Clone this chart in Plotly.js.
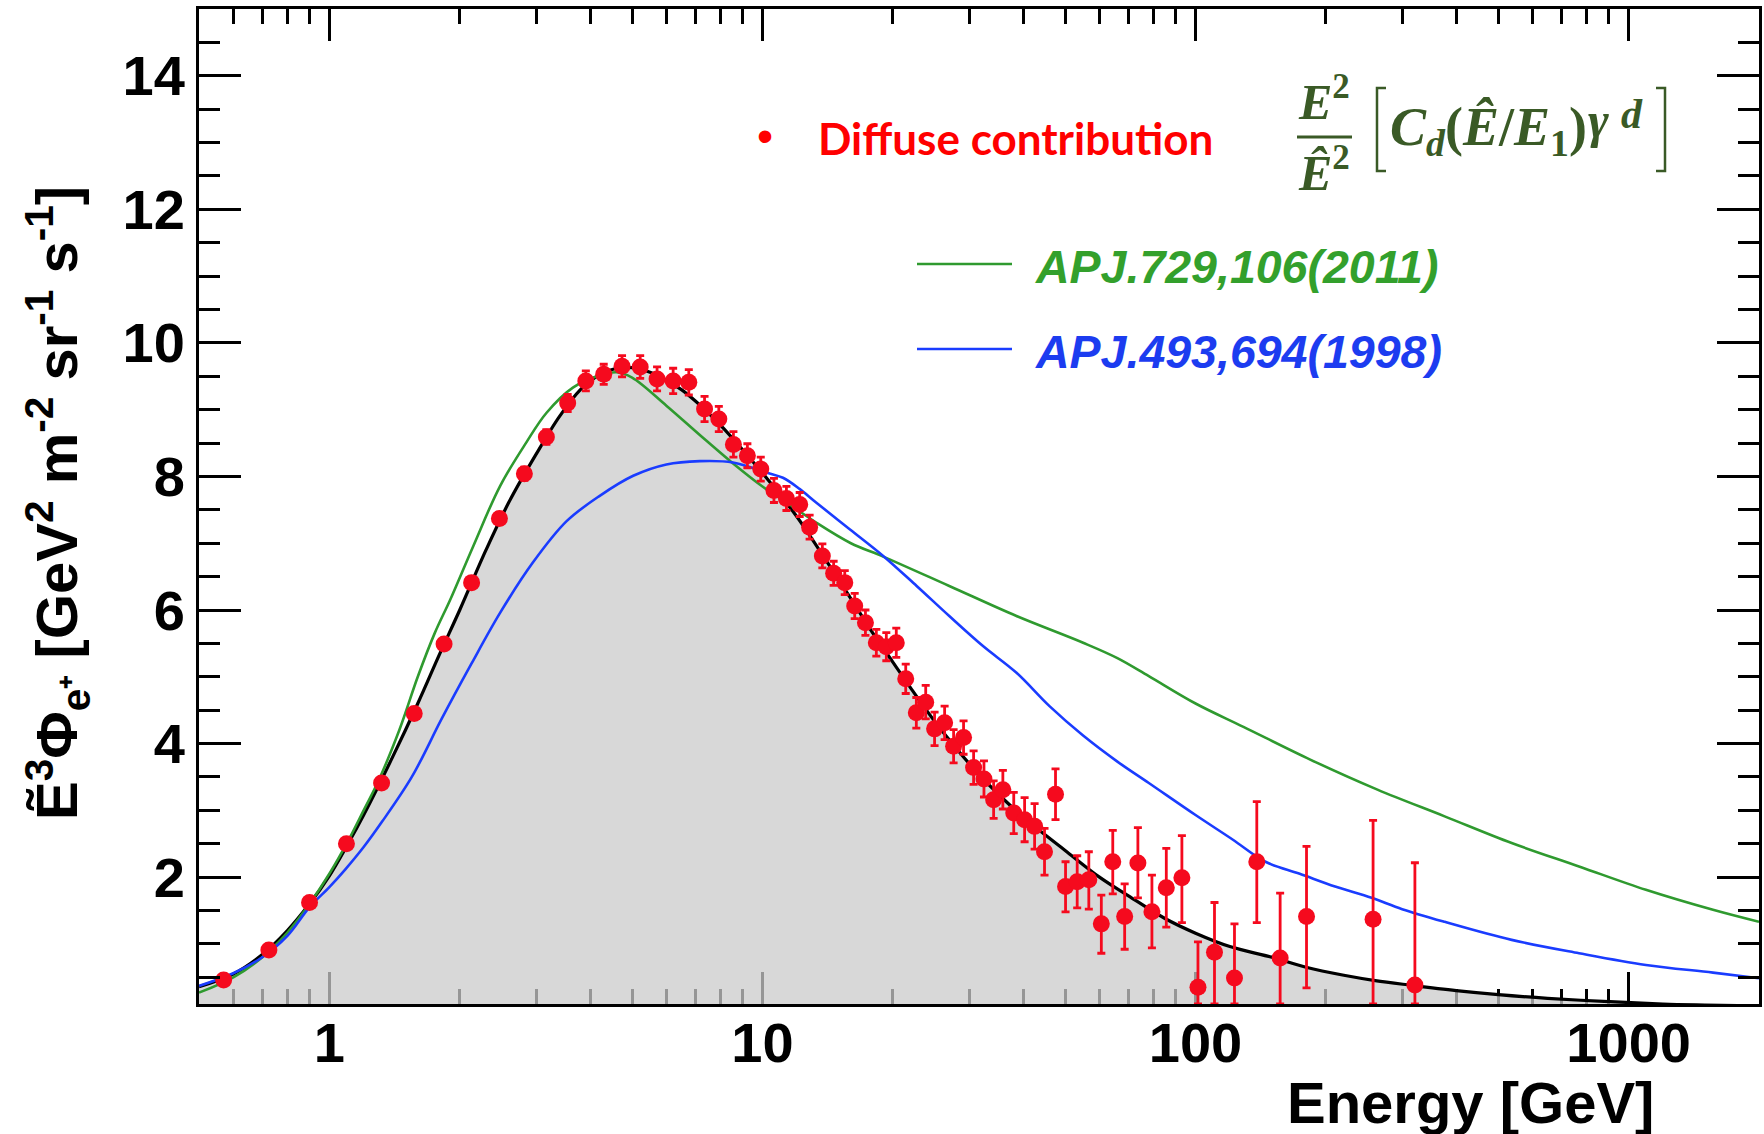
<!DOCTYPE html>
<html>
<head>
<meta charset="utf-8">
<script src="https://cdn.plot.ly/plotly-3.0.1.min.js"></script>
<style>html,body{margin:0;padding:0;background:#fff;}#chart{width:1764px;height:1134px;}</style>
</head>
<body>
<div id="chart"></div>
<script>
// ---- Data points: diffuse positron contribution ----
const dataEnergy = [0.57,0.725,0.90,1.095,1.32,1.57,1.84,2.13,2.47,2.82,3.17,3.55,3.91,4.30,4.74,5.22,5.71,6.22,6.76,7.35,7.93,8.57,9.23,9.91,10.63,11.36,12.19,12.85,13.75,14.6,15.49,16.33,17.29,18.32,19.32,20.37,21.42,22.66,23.82,24.97,26.34,27.63,29.13,30.73,32.47,34.18,35.9,38.04,40.3,42.5,44.8,47.5,50.1,53.3,56.7,60.6,64.4,68.6,73.6,79.3,85.6,93.0,101.3,110.6,123,138.5,156.8,180.4,257,321];
const dataFlux = [0.46,0.91,1.62,2.50,3.41,4.45,5.49,6.41,7.37,8.04,8.59,9.10,9.43,9.53,9.65,9.64,9.46,9.43,9.41,9.01,8.86,8.48,8.31,8.11,7.79,7.67,7.58,7.24,6.81,6.55,6.41,6.06,5.81,5.51,5.45,5.51,4.97,4.46,4.62,4.22,4.31,3.96,4.09,3.64,3.47,3.16,3.31,2.96,2.86,2.76,2.38,3.24,1.86,1.93,1.96,1.30,2.23,1.41,2.21,1.48,1.84,1.99,0.35,0.875,0.49,2.23,0.79,1.41,1.37,0.385];
const dataErrUp = [0.03,0.03,0.04,0.05,0.05,0.06,0.07,0.08,0.09,0.10,0.11,0.13,0.15,0.15,0.16,0.17,0.18,0.19,0.19,0.19,0.19,0.19,0.18,0.18,0.18,0.18,0.18,0.18,0.18,0.18,0.18,0.19,0.19,0.20,0.21,0.22,0.22,0.23,0.25,0.25,0.25,0.25,0.25,0.25,0.27,0.28,0.29,0.31,0.33,0.34,0.35,0.38,0.37,0.39,0.42,0.43,0.47,0.49,0.53,0.55,0.59,0.63,0.68,0.745,0.81,0.90,0.97,1.05,1.48,1.83];
const dataErrDown = [0.03,0.03,0.04,0.05,0.05,0.06,0.07,0.08,0.09,0.10,0.11,0.13,0.15,0.15,0.16,0.17,0.18,0.19,0.19,0.19,0.19,0.19,0.18,0.18,0.18,0.18,0.18,0.18,0.18,0.18,0.18,0.19,0.19,0.20,0.21,0.22,0.22,0.23,0.25,0.25,0.25,0.25,0.25,0.25,0.27,0.28,0.29,0.31,0.33,0.34,0.35,0.38,0.38,0.39,0.44,0.44,0.48,0.49,0.52,0.54,0.59,0.67,0.25,0.775,0.39,0.91,0.69,1.07,1.27,0.285];

// ---- Fit curve (black, filled) ----
const fitEnergy = [0.5,0.6,0.7,0.8,0.9,1.0,1.1,1.2,1.4,1.6,1.8,2.0,2.3,2.6,3.0,3.4,3.8,4.2,4.6,5.0,5.5,6.0,6.5,7.0,7.5,8,9,10,11,12,13,14,15,16,17,18,20,22,25,28,32,36,40,45,50,60,70,85,100,120,150,180,220,260,315,400,500,650,900,1200,1500,2000];
const fitFlux = [0.36,0.55,0.84,1.2,1.6,2.02,2.48,2.93,3.8,4.6,5.35,6.0,6.9,7.62,8.33,8.9,9.3,9.52,9.62,9.63,9.56,9.44,9.3,9.13,8.95,8.77,8.4,8.05,7.72,7.4,7.07,6.75,6.45,6.17,5.9,5.65,5.22,4.83,4.33,3.93,3.5,3.17,2.9,2.63,2.4,2.0,1.72,1.38,1.16,0.96,0.8,0.65,0.53,0.45,0.38,0.3,0.24,0.185,0.135,0.1,0.085,0.07];

// ---- APJ.729,106(2011) (green) ----
const greenEnergy = [0.5,0.6,0.7,0.8,0.9,1.0,1.1,1.2,1.3,1.45,1.6,1.75,1.9,2.15,2.48,2.85,3.17,3.65,4.2,4.6,5.0,6.0,7.2,8.5,10,11.2,13.3,16,19,27,38.6,55,66,78,100,129,184,263,376,537,768,1096,1566,2000];
const greenFlux = [0.27,0.5,0.8,1.17,1.6,2.05,2.52,3.0,3.45,4.2,5.0,5.65,6.15,6.96,7.86,8.51,8.95,9.33,9.51,9.56,9.48,9.06,8.61,8.21,7.85,7.64,7.31,7.0,6.8,6.36,5.91,5.51,5.28,5.01,4.6,4.25,3.76,3.31,2.91,2.51,2.16,1.81,1.51,1.33];

// ---- APJ.493,694(1998) (blue) ----
const blueEnergy = [0.5,0.6,0.7,0.8,0.9,1.0,1.09,1.2,1.32,1.55,1.82,2.13,2.48,2.95,3.53,4.21,5.03,6.0,7.17,8.55,10.2,11.15,12.2,13.3,15.9,19,22.7,27,32.3,38.6,46,55,66,78,100,122,145,174,210,255,300,376,537,768,1096,1566,2000];
const blueFlux = [0.37,0.56,0.8,1.12,1.55,1.85,2.12,2.45,2.82,3.5,4.38,5.2,5.96,6.71,7.33,7.71,8.01,8.18,8.23,8.21,8.06,7.98,7.81,7.61,7.21,6.81,6.36,5.91,5.46,5.06,4.56,4.12,3.73,3.41,2.93,2.56,2.23,2.05,1.86,1.69,1.52,1.33,1.06,0.86,0.685,0.57,0.485];

// ---- Axis ticks ----
const xMajorTicks = [1,10,100,1000];
const xMajorLabels = ['1','10','100','1000'];
const xMinorTicks = [0.6,0.7,0.8,0.9,2,3,4,5,6,7,8,9,20,30,40,50,60,70,80,90,200,300,400,500,600,700,800,900,2000];
const yMajorTicks = [2,4,6,8,10,12,14];
const yMajorLabels = ['2','4','6','8','10','12','14'];

// ---- Text ----
const legendDiffuse = 'Diffuse contribution';
const legendGreen = 'APJ.729,106(2011)';
const legendBlue = 'APJ.493,694(1998)';
const xTitle = 'Energy [GeV]';
const yTitle = 'Ẽ<sup>3</sup>Φ<sub>e⁺</sub> [GeV<sup>2</sup> m<sup>-2</sup> sr<sup>-1</sup> s<sup>-1</sup>]';

const RED = '#f50a1e';
const GREEN = '#2f9a2f';
const BLUE = '#1a3cff';
const FORM = '#3a5a26';

// plot area in pixels: x 199..1759, y 9..1004
const L = 199, R = 1759, T = 9, B = 1004;
const px = v => (v - L) / (R - L);
const py = v => (B - v) / (B - T);
const SERIF = 'Liberation Serif, DejaVu Serif, serif';

const traces = [
  {x: fitEnergy, y: fitFlux, type: 'scatter', mode: 'lines', line: {color: '#000', width: 3.2, shape: 'spline'},
   fill: 'tozeroy', fillcolor: 'rgba(203,203,203,0.74)', hoverinfo: 'skip'},
  {x: greenEnergy, y: greenFlux, type: 'scatter', mode: 'lines', line: {color: GREEN, width: 2.6, shape: 'spline'}},
  {x: blueEnergy, y: blueFlux, type: 'scatter', mode: 'lines', line: {color: BLUE, width: 2.6, shape: 'spline'}},
  {x: dataEnergy, y: dataFlux, type: 'scatter', mode: 'markers',
   marker: {color: RED, size: 17},
   error_y: {type: 'data', symmetric: false, array: dataErrUp, arrayminus: dataErrDown, color: RED, thickness: 2.8, width: 4}}
];

const tickFont = {family: 'Liberation Sans, Arial, sans-serif', size: 56, color: '#000', weight: 'bold'};

const layout = {
  width: 1764, height: 1134,
  margin: {l: L, r: 1764 - R, t: T, b: 1134 - B},
  paper_bgcolor: '#fff', plot_bgcolor: '#fff',
  showlegend: false,
  xaxis: {
    type: 'log', range: [Math.log10(0.5), Math.log10(2000)],
    showline: true, linecolor: '#000', linewidth: 3, mirror: 'allticks',
    ticks: 'inside', ticklen: 32, tickwidth: 3, tickcolor: '#000',
    tickmode: 'array', tickvals: xMajorTicks, ticktext: xMajorLabels,
    tickfont: tickFont, ticklabelstandoff: -12, showgrid: false, zeroline: false, layer: 'below traces',
    minor: {tickmode: 'array', tickvals: xMinorTicks, ticks: 'inside', ticklen: 15, tickwidth: 3, tickcolor: '#000', showgrid: false}
  },
  yaxis: {
    range: [0.1, 15],
    showline: true, linecolor: '#000', linewidth: 3, mirror: 'allticks',
    ticks: 'inside', ticklen: 42, tickwidth: 3, tickcolor: '#000',
    tickmode: 'array', tickvals: yMajorTicks, ticktext: yMajorLabels,
    tickfont: tickFont, showgrid: false, zeroline: false,
    minor: {tick0: 0, dtick: 0.5, ticks: 'inside', ticklen: 21, tickwidth: 3, tickcolor: '#000', showgrid: false}
  },
  shapes: [
    // legend line samples
    {type: 'line', xref: 'paper', yref: 'paper', x0: px(917), x1: px(1012), y0: py(264), y1: py(264), line: {color: GREEN, width: 2.6}},
    {type: 'line', xref: 'paper', yref: 'paper', x0: px(917), x1: px(1012), y0: py(349), y1: py(349), line: {color: BLUE, width: 2.6}},
    // fraction bar
    {type: 'line', xref: 'paper', yref: 'paper', x0: px(1297), x1: px(1352), y0: py(137), y1: py(137), line: {color: FORM, width: 3}},
    // brackets
    {type: 'path', xref: 'paper', yref: 'paper',
     path: `M ${px(1386)} ${py(88)} L ${px(1377)} ${py(88)} L ${px(1377)} ${py(171)} L ${px(1386)} ${py(171)}`,
     line: {color: FORM, width: 2.5}},
    {type: 'path', xref: 'paper', yref: 'paper',
     path: `M ${px(1656)} ${py(88)} L ${px(1665)} ${py(88)} L ${px(1665)} ${py(171)} L ${px(1656)} ${py(171)}`,
     line: {color: FORM, width: 2.5}}
  ],
  annotations: [
    {xref: 'paper', yref: 'paper', x: px(765), y: py(136), text: '•', showarrow: false, xanchor: 'center', yanchor: 'middle',
     font: {family: 'Liberation Sans, Arial', size: 46, color: '#ff0000'}},
    {xref: 'paper', yref: 'paper', x: px(816), y: py(138), text: legendDiffuse, showarrow: false, xanchor: 'left', yanchor: 'middle',
     font: {family: 'Lato, Open Sans, sans-serif', size: 44, color: '#ff0000', weight: 'bold'}},
    {xref: 'paper', yref: 'paper', x: px(1033), y: py(267), text: '<i>' + legendGreen + '</i>', showarrow: false, xanchor: 'left', yanchor: 'middle',
     font: {family: 'Liberation Sans, Arial', size: 46.5, color: '#33a02c', weight: 'bold'}},
    {xref: 'paper', yref: 'paper', x: px(1033), y: py(352), text: '<i>' + legendBlue + '</i>', showarrow: false, xanchor: 'left', yanchor: 'middle',
     font: {family: 'Liberation Sans, Arial', size: 46.5, color: '#1c3cf0', weight: 'bold'}},
    // formula
    {xref: 'paper', yref: 'paper', x: px(1324), y: py(98), text: '<i>E</i><sup>2</sup>', showarrow: false, xanchor: 'center', yanchor: 'middle',
     font: {family: SERIF, size: 50, color: FORM, weight: 'bold'}},
    {xref: 'paper', yref: 'paper', x: px(1324), y: py(170), text: '<i>Ê</i><sup>2</sup>', showarrow: false, xanchor: 'center', yanchor: 'middle',
     font: {family: SERIF, size: 50, color: FORM, weight: 'bold'}},
    {xref: 'paper', yref: 'paper', x: px(1388), y: py(130), text: '<i>C<sub>d</sub></i>(<i>Ê</i>/<i>E</i><sub>1</sub>)', showarrow: false, xanchor: 'left', yanchor: 'middle',
     font: {family: SERIF, size: 54, color: FORM, weight: 'bold'}},
    {xref: 'paper', yref: 'paper', x: px(1598), y: py(120), text: '<i>γ</i>', showarrow: false, xanchor: 'center', yanchor: 'middle',
     font: {family: SERIF, size: 50, color: FORM, weight: 'bold'}},
    {xref: 'paper', yref: 'paper', x: px(1632), y: py(114), text: '<i>d</i>', showarrow: false, xanchor: 'center', yanchor: 'middle',
     font: {family: SERIF, size: 42, color: FORM, weight: 'bold'}},
    // axis titles
    {xref: 'paper', yref: 'paper', x: px(1656), y: py(1102), text: xTitle, showarrow: false, xanchor: 'right', yanchor: 'middle',
     font: {family: 'Liberation Sans, Arial', size: 58, color: '#000', weight: 'bold'}},
    {xref: 'paper', yref: 'paper', x: px(57), y: py(503), text: yTitle, showarrow: false, textangle: -90, xanchor: 'center', yanchor: 'middle',
     font: {family: 'Liberation Sans, Arial', size: 58, color: '#000', weight: 'bold'}}
  ]
};

Plotly.newPlot('chart', traces, layout, {displayModeBar: false, staticPlot: true});
</script>
</body>
</html>
